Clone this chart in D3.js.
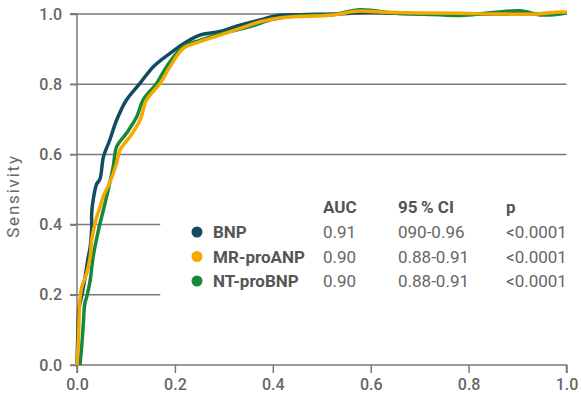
<!DOCTYPE html>
<html><head><meta charset="utf-8">
<script src="https://cdn.jsdelivr.net/npm/d3@7"></script>
<style>body{margin:0;background:#fff}svg{display:block}</style>
</head><body><div id="chart"></div>
<script>
const seriesNames = ["BNP", "MR-proANP", "NT-proBNP"];
const seriesColors = ["#124c62", "#f5a800", "#16883a"];
const auc = ["0.91", "0.90", "0.90"];
const ci = ["090-0.96", "0.88-0.91", "0.88-0.91"];
const pval = ["<0.0001", "<0.0001", "<0.0001"];
const headers = ["AUC", "95\u2009% CI", "p"];
const xTicks = [0, 0.2, 0.4, 0.6, 0.8, 1.0];
const yTicks = [0, 0.2, 0.4, 0.6, 0.8, 1.0];
const yLabel = "Sensivity";

const bnpX = [0,0.002,0.004,0.01,0.016,0.022,0.027,0.03,0.03,0.033,0.04,0.047,0.054,0.067,0.081,0.101,0.129,0.156,0.19,0.224,0.251,0.292,0.333,0.374,0.408,0.456,0.523,0.6,0.7,0.8,0.9,1.0];
const bnpY = [0,0.1,0.16,0.2,0.245,0.3,0.337,0.39,0.432,0.47,0.515,0.53,0.593,0.641,0.698,0.755,0.803,0.85,0.888,0.921,0.94,0.95,0.968,0.983,0.995,0.998,1.0,1.004,1.0,1.0,1.0,1.002];
const mrX = [0,0.003,0.006,0.01,0.02,0.027,0.03,0.04,0.047,0.054,0.067,0.081,0.088,0.108,0.129,0.142,0.17,0.19,0.217,0.251,0.292,0.333,0.374,0.421,0.523,0.571,0.619,0.7,0.78,0.857,0.94,0.987,1.0];
const mrY = [0,0.08,0.185,0.223,0.262,0.309,0.356,0.42,0.45,0.482,0.52,0.575,0.613,0.65,0.698,0.755,0.803,0.85,0.902,0.921,0.94,0.959,0.978,0.99,0.997,1.008,1.006,1.003,1.002,1.0,1.0,1.006,1.005];
const ntX = [0.006,0.01,0.013,0.016,0.02,0.027,0.033,0.044,0.054,0.062,0.074,0.081,0.101,0.122,0.135,0.163,0.183,0.217,0.251,0.292,0.353,0.4,0.45,0.523,0.578,0.65,0.7,0.782,0.85,0.905,0.95,1.0];
const ntY = [0,0.06,0.12,0.176,0.195,0.242,0.309,0.385,0.442,0.489,0.565,0.622,0.66,0.707,0.755,0.803,0.85,0.907,0.925,0.943,0.964,0.985,0.995,0.998,1.012,1.002,1.0,0.996,1.004,1.009,0.997,1.003];

const W = 581, H = 396;
const x = d3.scaleLinear().domain([0, 1]).range([77, 566.5]);
const y = d3.scaleLinear().domain([0, 1]).range([365, 14]);
const svg = d3.select("#chart").append("svg").attr("width", W).attr("height", H);
const font = "Roboto, sans-serif";
const grid = "#7a7a7a";

// gridlines
yTicks.filter(t => t > 0).forEach(t => {
  svg.append("line").attr("x1", 70).attr("x2", t >= 0.6 ? x(1) : x(0.17))
    .attr("y1", y(t)).attr("y2", y(t)).attr("stroke", grid).attr("stroke-width", 1.5);
});

const yAxis = svg.append("g").attr("transform", `translate(${x(0)},0)`)
  .call(d3.axisLeft(y).tickValues(yTicks).tickFormat(d3.format(".1f")).tickSize(7).tickPadding(8));
const xAxis = svg.append("g").attr("transform", `translate(0,${y(0)})`)
  .call(d3.axisBottom(x).tickValues(xTicks).tickFormat(d3.format(".1f")).tickSize(8).tickPadding(6));
[yAxis, xAxis].forEach(a => {
  a.select(".domain").attr("stroke", grid).attr("stroke-width", 1.5);
  a.selectAll(".tick line").attr("stroke", grid).attr("stroke-width", 1.5);
  a.selectAll("text").attr("font-family", font).attr("font-size", 16).attr("font-weight", 500).attr("fill", "#666");
});
yAxis.select(".domain").attr("d", `M-7,${y(0)}H0V${y(1)}H-7`);
xAxis.select(".domain").attr("d", `M${x(0)},8V0H${x(1)}V8`);

svg.append("text").attr("transform", `translate(19,196) rotate(-90)`).attr("text-anchor", "middle")
  .attr("font-family", font).attr("font-size", 17).attr("letter-spacing", 1.8).attr("fill", "#666").text(yLabel);

const line = d3.line().x(d => x(d[0])).y(d => y(d[1])).curve(d3.curveCatmullRom);
const data = [d3.zip(bnpX, bnpY), d3.zip(mrX, mrY), d3.zip(ntX, ntY)];
[0, 2, 1].forEach(i => {
  svg.append("path").attr("d", line(data[i])).attr("fill", "none")
    .attr("stroke", seriesColors[i]).attr("stroke-width", 3.5).attr("stroke-linejoin", "round");
});

// legend table
const cols = [323, 398, 506];
headers.forEach((h, j) => svg.append("text").attr("x", cols[j]).attr("y", 213)
  .attr("font-family", font).attr("font-size", 17).attr("font-weight", 700).attr("fill", "#555").text(h));
seriesNames.forEach((n, i) => {
  const yy = 232 + i * 24.5;
  svg.append("circle").attr("cx", 197).attr("cy", yy).attr("r", 5.5).attr("fill", seriesColors[i]);
  svg.append("text").attr("x", 213).attr("y", yy + 6).attr("font-family", font).attr("font-size", 17)
    .attr("font-weight", 700).attr("fill", "#555").text(n);
  [auc[i], ci[i], pval[i]].forEach((v, j) => svg.append("text").attr("x", cols[j]).attr("y", yy + 6)
    .attr("font-family", font).attr("font-size", 17).attr("fill", "#666").text(v));
});
</script></body></html>
